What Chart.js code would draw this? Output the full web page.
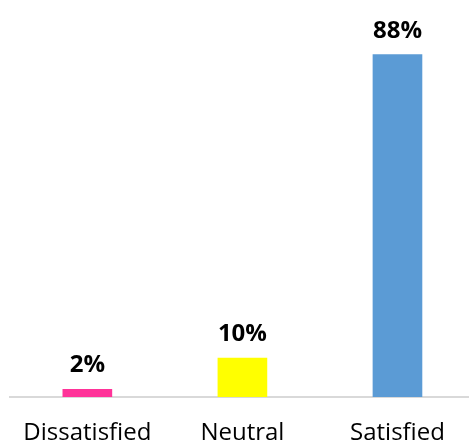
<!DOCTYPE html>
<html>
<head>
<meta charset="utf-8">
<script src="https://cdn.jsdelivr.net/npm/chart.js@4"></script>
<style>
  html, body { margin: 0; padding: 0; background: #fff; overflow: hidden; }
  #wrap { width: 475px; height: 445px; }
</style>
</head>
<body>
<div id="wrap"><canvas id="chart" width="475" height="445"></canvas></div>
<script>
// Datos del gráfico
const categories = ['Dissatisfied', 'Neutral', 'Satisfied'];
const percentages = [2, 10, 88];
const barColors = ['#FF3399', '#FFFF00', '#5B9BD5'];

// Etiquetas de valor encima de cada barra
const valueLabels = {
    id: 'valueLabels',
    afterDatasetsDraw(chart) {
        const ctx = chart.ctx;
        const meta = chart.getDatasetMeta(0);
        ctx.save();
        ctx.font = "bold 24px 'Open Sans'";
        ctx.fillStyle = '#000';
        ctx.textAlign = 'center';
        ctx.textBaseline = 'alphabetic';
        meta.data.forEach((bar, i) => {
            ctx.fillText(percentages[i] + '%', bar.x, bar.y - 17);
        });
        ctx.restore();
    }
};

new Chart(document.getElementById('chart'), {
    type: 'bar',
    data: {
        labels: categories,
        datasets: [{
            data: percentages,
            backgroundColor: barColors,
            barThickness: 49
        }]
    },
    options: {
        responsive: false,
        animation: false,
        layout: { padding: { left: 8, right: 0, top: 8, bottom: 0 } },
        plugins: { legend: { display: false }, tooltip: { enabled: false } },
        scales: {
            y: { display: false, min: 0, max: 100 },
            x: {
                grid: { display: false, drawTicks: false },
                border: { display: true, color: '#D9D9D9', width: 2 },
                afterFit(scale) { scale.height = 48; },
                ticks: {
                    color: '#000',
                    padding: 22,
                    font: { family: "'Open Sans'", size: 24 }
                }
            }
        }
    },
    plugins: [valueLabels]
});
</script>
</body>
</html>
